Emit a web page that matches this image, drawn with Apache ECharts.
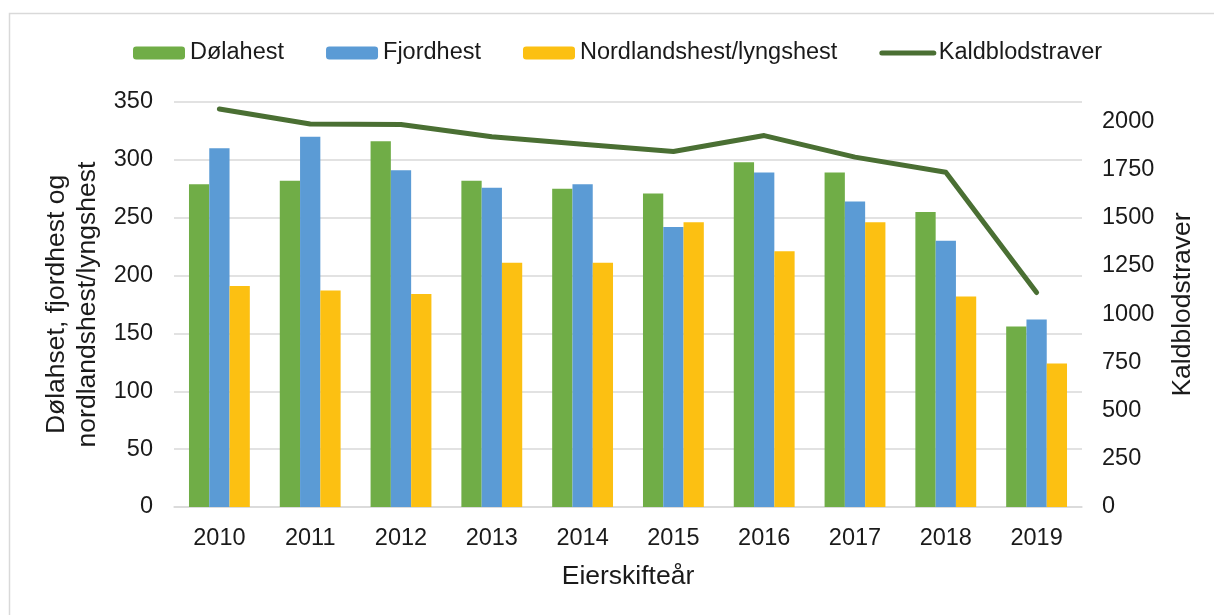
<!DOCTYPE html>
<html>
<head>
<meta charset="utf-8">
<script src="https://cdn.jsdelivr.net/npm/echarts@6/dist/echarts.min.js"></script>
<style>
  html, body { margin: 0; padding: 0; background: #fff; }
  #main { width: 1214px; height: 615px; }
</style>
</head>
<body>
<div id="main"></div>
<script>
const years = ['2010', '2011', '2012', '2013', '2014', '2015', '2016', '2017', '2018', '2019'];
const dolahest = [279, 282, 316, 282, 275, 271, 298, 289, 255, 156];
const fjordhest = [310, 320, 291, 276, 279, 242, 289, 264, 230, 162];
const nordlandshest = [191, 187, 184, 211, 211, 246, 221, 246, 182, 124];
const kaldblodstraver = [2064, 1986, 1983, 1920, 1881, 1843, 1926, 1814, 1736, 1112];

const font = "'Liberation Sans', Arial, sans-serif";
const textColor = '#1a1a1a';
const gridColor = '#d9d9d9';
const lineColor = '#4a6f33';

const chart = echarts.init(document.getElementById('main'));

const option = {
    backgroundColor: '#fff',
    animation: false,
    textStyle: { fontFamily: font, color: textColor },
    graphic: [{
        type: 'rect',
        shape: { x: 9.5, y: 13.5, width: 1400, height: 800 },
        style: { fill: 'none', stroke: gridColor, lineWidth: 1.5 },
        silent: true
    }],
    legend: {
        left: 128,
        top: 36,
        itemWidth: 52,
        itemHeight: 13,
        itemGap: 42,
        textStyle: { fontSize: 23.5, color: textColor, fontFamily: font },
        data: [
            'Dølahest',
            'Fjordhest',
            'Nordlandshest/lyngshest',
            {
                name: 'Kaldblodstraver',
                itemStyle: { color: 'rgba(0,0,0,0)', opacity: 0, borderWidth: 0 },
                lineStyle: { color: lineColor, width: 5, cap: 'round' }
            }
        ]
    },
    grid: { left: 174, right: 132, top: 102, bottom: 108 },
    xAxis: {
        type: 'category',
        data: years,
        name: 'Eierskifteår',
        nameLocation: 'middle',
        nameGap: 56,
        nameTextStyle: { fontSize: 26.5, color: textColor },
        axisLine: { lineStyle: { color: gridColor, width: 1.5 } },
        axisTick: { show: false },
        axisLabel: { fontSize: 23.5, color: textColor, margin: 20 }
    },
    yAxis: [{
        type: 'value',
        min: 0,
        max: 350,
        interval: 50,
        name: 'Dølahset, fjordhest og\nnordlandshest/lyngshest',
        nameLocation: 'middle',
        nameRotate: 90,
        nameGap: 57,
        nameTextStyle: { fontSize: 26.5, color: textColor, lineHeight: 31 },
        axisLine: { show: false },
        axisTick: { show: false },
        axisLabel: { fontSize: 23.5, color: textColor, margin: 21 },
        splitLine: { lineStyle: { color: gridColor, width: 1.5 } }
    }, {
        type: 'value',
        min: 0,
        max: 2100,
        interval: 250,
        name: 'Kaldblodstraver',
        nameLocation: 'middle',
        nameRotate: 90,
        nameGap: 87,
        nameTextStyle: { fontSize: 26.5, color: textColor },
        axisLine: { show: false },
        axisTick: { show: false },
        axisLabel: {
            fontSize: 23.5,
            color: textColor,
            margin: 20,
            showMaxLabel: false,
            formatter: function (v) { return String(v); }
        },
        splitLine: { show: false }
    }],
    series: [{
        name: 'Dølahest',
        type: 'bar',
        data: dolahest,
        barGap: '0%',
        barCategoryGap: '33%',
        itemStyle: { color: '#70ad47' }
    }, {
        name: 'Fjordhest',
        type: 'bar',
        data: fjordhest,
        itemStyle: { color: '#5b9bd5' }
    }, {
        name: 'Nordlandshest/lyngshest',
        type: 'bar',
        data: nordlandshest,
        itemStyle: { color: '#fcc012' }
    }, {
        name: 'Kaldblodstraver',
        type: 'line',
        yAxisIndex: 1,
        data: kaldblodstraver,
        symbol: 'none',
        lineStyle: { color: lineColor, width: 5, cap: 'round', join: 'round' },
        itemStyle: { color: lineColor }
    }]
};

chart.setOption(option);
</script>
</body>
</html>
